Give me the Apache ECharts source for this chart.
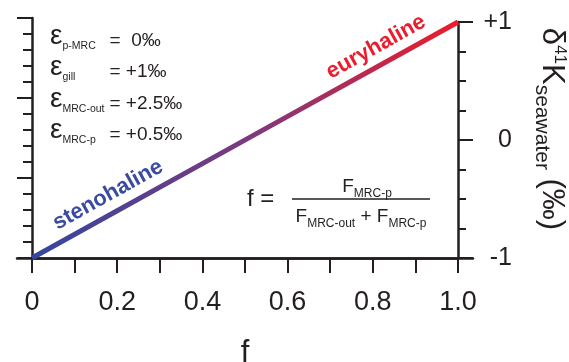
<!DOCTYPE html>
<html>
<head>
<meta charset="utf-8">
<script src="https://cdn.jsdelivr.net/npm/echarts@6/dist/echarts.min.js"></script>
<style>
html,body{margin:0;padding:0;background:#fff;}
#chart{width:569px;height:362px;}
</style>
</head>
<body>
<div id="chart"></div>
<script>
// ---- data ----
const fValues = [0, 0.2, 0.4, 0.6, 0.8, 1.0];
const d41K = [-1, -0.6, -0.2, 0.2, 0.6, 1.0];
const xTickLabels = ['0', '0.2', '0.4', '0.6', '0.8', '1.0'];
const yTickValues = [-1, 0, 1];
const yTickLabels = ['-1', '0', '+1'];
const epsilonSubs = ['p-MRC', 'gill', 'MRC-out', 'MRC-p'];
const epsilonVals = ['=  0‰', '= +1‰', '= +2.5‰', '= +0.5‰'];
const regimeLabels = ['stenohaline', 'euryhaline'];

const FONT = '"Liberation Sans", Arial, Helvetica, sans-serif';
const INK = '#231f20';
const BLUE = '#3a4ba1';
const RED = '#ec1c2c';

const chart = echarts.init(document.getElementById('chart'), null, {renderer: 'canvas'});

const lineData = fValues.map((f, i) => [f, d41K[i]]);

const graphics = [];
// epsilon annotations
const rowBase = [22, 53, 85, 116];
epsilonSubs.forEach((s, i) => {
  graphics.push({
    type: 'text', left: 50, top: rowBase[i],
    style: {
      text: '{e|ε}{s|' + s + '}{q|' + epsilonVals[i] + '}',
      rich: {
        e: {fontSize: 28, fontFamily: FONT, fill: INK, lineHeight: 28, verticalAlign: 'bottom'},
        s: {fontSize: 10.5, fontFamily: FONT, fill: INK, lineHeight: 12, verticalAlign: 'bottom', width: 47, padding: [0, 0, -2, 0]},
        q: {fontSize: 19, fontFamily: FONT, fill: INK, lineHeight: 22, verticalAlign: 'bottom'}
      }
    }
  });
});
// regime labels along the line
graphics.push({
  type: 'text', x: 108, y: 195, rotation: 29 * Math.PI / 180,
  style: {text: regimeLabels[0], fontSize: 22, fontWeight: 'bold', fontFamily: FONT, fill: BLUE, align: 'center', verticalAlign: 'middle'}
});
graphics.push({
  type: 'text', x: 376, y: 47, rotation: 29 * Math.PI / 180,
  style: {text: regimeLabels[1], fontSize: 22, fontWeight: 'bold', fontFamily: FONT, fill: RED, align: 'center', verticalAlign: 'middle'}
});
// formula
graphics.push({
  type: 'text', x: 247, y: 199,
  style: {text: 'f =', fontSize: 24, fontFamily: FONT, fill: INK, align: 'left', verticalAlign: 'middle'}
});
graphics.push({
  type: 'text', x: 367, y: 196,
  style: {
    text: '{F|F}{s|MRC-p}', align: 'center', verticalAlign: 'bottom',
    rich: {
      F: {fontSize: 19, fontFamily: FONT, fill: INK, lineHeight: 20, verticalAlign: 'bottom'},
      s: {fontSize: 12, fontFamily: FONT, fill: INK, lineHeight: 12, verticalAlign: 'bottom', padding: [0, 0, -4, 0]}
    }
  }
});
graphics.push({
  type: 'line', shape: {x1: 292, y1: 199, x2: 430, y2: 199},
  style: {stroke: INK, lineWidth: 1.5}
});
graphics.push({
  type: 'text', x: 361, y: 206,
  style: {
    text: '{F|F}{s|MRC-out}{F| + F}{s|MRC-p}', align: 'center', verticalAlign: 'top',
    rich: {
      F: {fontSize: 19, fontFamily: FONT, fill: INK, lineHeight: 20, verticalAlign: 'bottom'},
      s: {fontSize: 12, fontFamily: FONT, fill: INK, lineHeight: 12, verticalAlign: 'bottom', padding: [0, 0, -4, 0]}
    }
  }
});

const option = {
  animation: false,
  backgroundColor: '#fff',
  grid: [
    {left: 32, right: 111, top: 22, bottom: 104, containLabel: false, outerBoundsMode: 'none'},
    {left: 17, right: 96, top: 18, bottom: 104, containLabel: false, outerBoundsMode: 'none'}
  ],
  xAxis: [
    {
      type: 'value', gridIndex: 0, min: 0, max: 1, interval: 0.2, position: 'bottom',
      axisLine: {show: true, onZero: false, lineStyle: {color: INK, width: 2.5}},
      axisTick: {show: true, length: 15, inside: false, lineStyle: {color: INK, width: 2}},
      minorTick: {show: true, splitNumber: 2, length: 15, lineStyle: {color: INK, width: 2}},
      splitLine: {show: false},
      axisLabel: {
        margin: 31, fontSize: 27, fontFamily: FONT, color: INK,
        formatter: v => xTickLabels[Math.round(v / 0.2)] || ''
      },
      name: 'f', nameLocation: 'middle', nameGap: 80,
      nameTextStyle: {fontSize: 31, fontFamily: FONT, color: INK}
    },
    {
      type: 'value', gridIndex: 1, min: 0, max: 1, position: 'bottom',
      axisLine: {show: true, onZero: false, lineStyle: {color: INK, width: 2.5}},
      axisTick: {show: false}, axisLabel: {show: false}, splitLine: {show: false}
    }
  ],
  yAxis: [
    {
      type: 'value', gridIndex: 0, position: 'right', min: -1, max: 1, interval: 1,
      axisLine: {show: true, onZero: false, lineStyle: {color: INK, width: 2.5}},
      axisTick: {show: true, length: 15, inside: false, lineStyle: {color: INK, width: 2}},
      minorTick: {show: true, splitNumber: 4, length: 8, lineStyle: {color: INK, width: 2}},
      splitLine: {show: false},
      axisLabel: {
        align: 'right', margin: 54, fontSize: 25, fontFamily: FONT, color: INK,
        formatter: v => { const k = yTickValues.indexOf(Math.round(v)); return k >= 0 ? yTickLabels[k] : ''; }
      },
      name: '{d|δ}{sup|41}{d|K}{sub|seawater}{d| (‰)}',
      nameLocation: 'middle', nameRotate: -90, nameGap: 78,
      nameTextStyle: {
        padding: [0, 22, 0, 0],
        rich: {
          d: {fontSize: 31, fontFamily: FONT, color: INK, lineHeight: 32, verticalAlign: 'bottom'},
          sup: {fontSize: 17, fontFamily: FONT, color: INK, lineHeight: 17, verticalAlign: 'top'},
          sub: {fontSize: 21, fontFamily: FONT, color: INK, lineHeight: 21, verticalAlign: 'bottom', padding: [0, 0, -5, 0]}
        }
      }
    },
    {
      type: 'value', gridIndex: 1, position: 'left', offset: -15, min: 0, max: 3, interval: 1,
      axisLine: {show: true, onZero: false, lineStyle: {color: INK, width: 2.5}},
      axisTick: {show: true, length: 15, inside: false, lineStyle: {color: INK, width: 2}},
      minorTick: {show: true, splitNumber: 5, length: 9, lineStyle: {color: INK, width: 2}},
      splitLine: {show: false}, axisLabel: {show: false}
    }
  ],
  series: [{
    type: 'line', xAxisIndex: 0, yAxisIndex: 0, data: lineData,
    symbol: 'none', silent: true,
    lineStyle: {
      width: 5,
      color: new echarts.graphic.LinearGradient(0, 0, 1, 0, [
        {offset: 0, color: '#3446a0'},
        {offset: 0.5, color: '#7a3a7e'},
        {offset: 1, color: '#ee1c2a'}
      ])
    }
  }],
  graphic: graphics
};
chart.setOption(option);
</script>
</body>
</html>
